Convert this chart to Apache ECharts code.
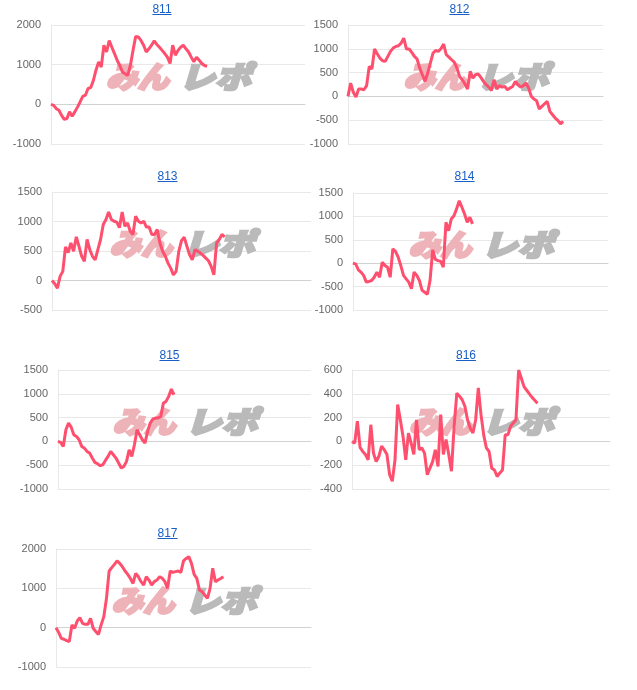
<!DOCTYPE html>
<html>
<head>
<meta charset="utf-8">
<script src="https://cdn.jsdelivr.net/npm/echarts@6/dist/echarts.min.js"></script>
<style>
html,body{margin:0;padding:0;background:#fff;}
#wrap{position:relative;width:637px;height:690px;overflow:hidden;}
#chart{position:absolute;left:0;top:0;width:637px;height:690px;}
.ttl{position:absolute;width:60px;margin-left:-30px;text-align:center;font-family:"Liberation Sans",Arial,sans-serif;font-size:12px;line-height:14px;z-index:2;}
.ttl a{color:#1a5fc6;text-decoration:underline;}
</style>
</head>
<body>
<div id="wrap"><div id="chart"></div></div>
<script>
// ---- data ----
const machineNames = ['811', '812', '813', '814', '815', '816', '817'];

const s811 = [0,-25,-110,-150,-280,-380,-360,-190,-300,-190,-70,60,200,230,400,420,600,860,1070,940,
  1490,1320,1610,1440,1280,1110,980,815,770,730,980,1360,1710,1700,1610,1490,1320,1400,1490,1600,
  1510,1440,1360,1280,1190,1030,1490,1240,1360,1440,1490,1400,1320,1190,1070,1190,1110,1030,980,960];

const s812 = [0,280,85,-15,155,155,140,225,630,575,995,895,805,750,735,840,945,1015,1050,1065,
  1120,1225,995,995,925,840,785,595,455,315,490,700,910,965,945,1000,1100,875,825,770,
  720,595,420,350,265,155,525,385,455,475,400,315,245,195,125,350,155,225,195,210,
  140,175,210,315,245,195,225,280,175,0,-55,-90,-265,-210,-155,-105,-315,-385,-455,-505,-575,-525];

const s813 = [0,-55,-130,70,155,570,475,635,495,740,580,410,325,695,525,410,350,525,695,950,
  1035,1160,1035,1005,990,895,1160,920,975,835,780,1090,1005,975,1005,905,905,780,780,865,
  635,495,410,295,210,95,155,495,675,735,580,435,350,525,495,465,425,380,335,240,95,635,695,780,740];

const s814 = [0,-15,-140,-190,-260,-405,-390,-370,-300,-190,-300,20,-50,-85,-300,305,255,130,-50,-260,
  -335,-405,-545,-190,-260,-370,-580,-620,-665,-370,285,80,55,40,-85,875,695,945,1015,1160,
  1335,1195,1050,875,980,840];

const s815 = [0,-20,-105,245,385,300,140,105,35,-105,-140,-210,-245,-350,-440,-470,-510,-490,-400,-315,
  -210,-280,-350,-455,-560,-525,-420,-175,-315,-70,245,140,35,-35,210,385,470,490,490,525,
  805,840,945,1100,980];

const s816 = [0,-15,170,-50,-85,-110,-155,140,-100,-170,-125,-40,-70,-110,-280,-335,-155,310,180,40,
  -155,70,-15,-110,180,-70,-55,-100,-280,-225,-170,-70,-210,225,-110,15,-110,-250,125,405,
  380,350,295,180,110,70,180,450,225,55,-55,-85,-225,-240,-295,-265,-240,55,55,125,
  155,180,600,530,460,430,400,370,345,320];

const s817 = [0,-120,-270,-295,-330,-355,70,-15,170,255,110,85,85,235,-15,-100,-170,70,280,745,
  1440,1525,1610,1700,1635,1550,1440,1355,1250,1125,1380,1295,1170,1085,1295,1210,1085,1170,1210,1295,
  1255,1170,1000,1440,1405,1425,1440,1405,1700,1760,1805,1635,1355,1255,960,915,830,745,1000,1510,
  1170,1210,1250,1295];

const seriesValues = [s811, s812, s813, s814, s815, s816, s817];

// y-axis tick settings (min, max, step) per machine
const yMins  = [-1000, -1000, -500, -1000, -1000, -400, -1000];
const yMaxs  = [2000, 1500, 1500, 1500, 1500, 600, 2000];
const ySteps = [1000, 500, 500, 500, 500, 200, 1000];

// x-axis: game slots across full width
const slotCount = 97;
const slotLabels = Array.from({length: slotCount}, (_, i) => String(i + 1));

// ---- layout (pixels) ----
const plotLeft   = [51, 348, 52, 353, 58, 352, 56];
const plotRight  = [305, 603, 311, 608, 311, 610, 311];
const plotTop    = [25, 25, 192, 193, 370, 370, 549];
const plotBottom = [144, 144, 310, 310, 489, 489, 667];
const titleCx    = [162, 459.5, 167.5, 464.5, 169.5, 466, 167.5];
const titleBase  = [12.7, 12.7, 180, 180, 359, 359, 537];

const LINE = '#ff4f6e';
const GRID = '#e8e8e8';

// titles as links
const wrap = document.getElementById('wrap');
machineNames.forEach((n, i) => {
  const d = document.createElement('div');
  d.className = 'ttl';
  d.style.left = titleCx[i] + 'px';
  d.style.top = (titleBase[i] - 11) + 'px';
  const a = document.createElement('a');
  a.href = '#';
  a.textContent = n;
  d.appendChild(a);
  wrap.appendChild(d);
});

const WM_FONT = 'italic 900 30px "Noto Sans CJK JP", sans-serif';
const grids = [], xAxes = [], yAxes = [], series = [], graphics = [];
machineNames.forEach((n, i) => {
  grids.push({
    left: plotLeft[i], top: plotTop[i],
    width: plotRight[i] - plotLeft[i], height: plotBottom[i] - plotTop[i],
    containLabel: false
  });
  xAxes.push({
    type: 'category', gridIndex: i, data: slotLabels, boundaryGap: false,
    axisLabel: {show: false}, axisTick: {show: false},
    axisLine: {show: true, onZero: true, lineStyle: {color: '#d2d2d2', width: 1}},
    splitLine: {show: false}
  });
  yAxes.push({
    type: 'value', gridIndex: i, min: yMins[i], max: yMaxs[i], interval: ySteps[i],
    axisLine: {show: true, lineStyle: {color: GRID}},
    axisTick: {show: false},
    splitLine: {show: true, lineStyle: {color: GRID, width: 1}},
    axisLabel: {color: '#666', fontSize: 11, margin: 10,
                fontFamily: 'Liberation Sans, Arial, sans-serif',
                formatter: v => String(v)}
  });
  series.push({
    type: 'line', name: n, xAxisIndex: i, yAxisIndex: i, data: seriesValues[i],
    showSymbol: false, symbol: 'none', smooth: false, z: 5,
    lineStyle: {color: LINE, width: 3}, itemStyle: {color: LINE}
  });
  const cx = (plotLeft[i] + plotRight[i]) / 2;
  const cy = plotTop[i] + 52;
  graphics.push({
    type: 'group', x: cx, y: cy, z: 1, silent: true,
    children: [
      {type: 'text', x: -9, y: 0, z: 1, scaleX: 1.05,
       style: {text: 'みん', align: 'right', verticalAlign: 'middle',
               font: WM_FONT, fill: '#eeb3b8', stroke: '#eeb3b8', lineWidth: 2.5}},
      {type: 'text', x: 1, y: 0, z: 1, scaleX: 1.2,
       style: {text: 'レポ', align: 'left', verticalAlign: 'middle',
               font: WM_FONT, fill: '#bababa', stroke: '#bababa', lineWidth: 2.5}}
    ]
  });
});

const chart = echarts.init(document.getElementById('chart'), null, {renderer: 'canvas'});
chart.setOption({
  animation: false,
  backgroundColor: '#fff',
  grid: grids, xAxis: xAxes, yAxis: yAxes, series: series,
  graphic: graphics,
  tooltip: {show: false}
});
</script>
</body>
</html>
